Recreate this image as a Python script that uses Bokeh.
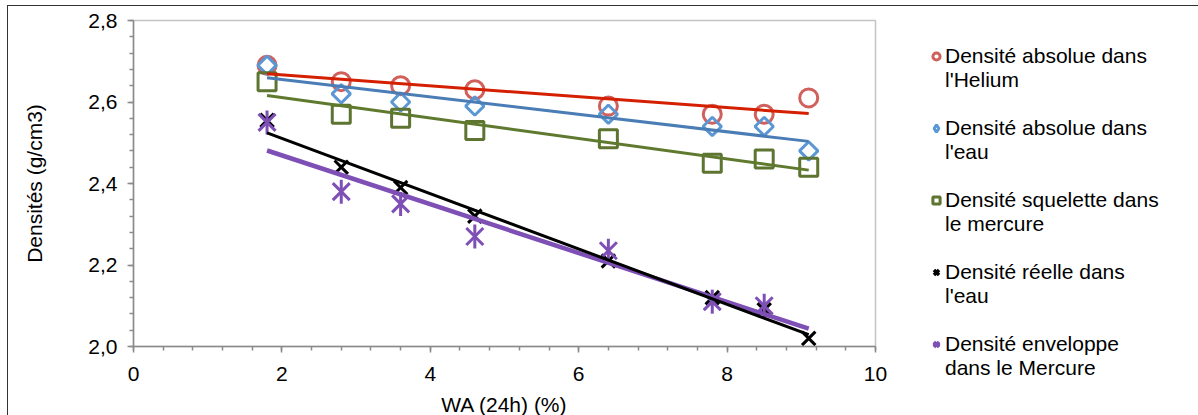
import numpy as np
from bokeh.plotting import figure
from bokeh.models import (Legend, LegendItem, FixedTicker, CustomJSTickFormatter, Range1d,
                          BoxAnnotation)
from bokeh.embed import file_html
from bokeh.resources import INLINE

# ---------------- data ----------------
wa = [1.8, 2.8, 3.6, 4.6, 6.4, 7.8, 8.5, 9.1]
helium = [2.69, 2.65, 2.64, 2.63, 2.59, 2.57, 2.57, 2.61]
eau_abs = [2.69, 2.62, 2.60, 2.59, 2.57, 2.54, 2.54, 2.48]
squelette = [2.65, 2.57, 2.56, 2.53, 2.51, 2.45, 2.46, 2.44]
reelle = [2.555, 2.44, 2.39, 2.32, 2.21, 2.12, 2.09, 2.02]
enveloppe = [2.55, 2.38, 2.35, 2.27, 2.235, 2.11, 2.10, float("nan")]  # no marker at 9.1

series_labels = [
    ("Densité absolue dans", "l'Helium"),
    ("Densité absolue dans", "l'eau"),
    ("Densité squelette dans", "le mercure"),
    ("Densité réelle dans", "l'eau"),
    ("Densité enveloppe", "dans le Mercure"),
]
x_label = "WA (24h) (%)"
y_label = "Densités (g/cm3)"
x_ticks = [0, 2, 4, 6, 8, 10]
y_ticks = [2.0, 2.2, 2.4, 2.6, 2.8]

FONT = "Liberation Sans"
FS = "21px"
C_RED, C_BLUE, C_GREEN, C_PURPLE = "#D0605C", "#5B97D5", "#5E7431", "#7E4FB5"

# ---------------- geometry ----------------
W, H = 1198, 415
PL, PR, PT, PB = 133, 875, 20, 346          # plot-area box in pixels
x0, x1 = x_ticks[0], x_ticks[-1]
y0, y1 = y_ticks[0], y_ticks[-1]
px_per_x = (PR - PL) / (x1 - x0)
px_per_y = (PB - PT) / (y1 - y0)
# the frame covers the whole canvas; axes are pinned to the plot-area edges
x_range = Range1d(x0 - PL / px_per_x, x1 + (W - PR) / px_per_x)
y_range = Range1d(y0 - (H - PB) / px_per_y, y1 + PT / px_per_y)

p = figure(width=W, height=H, output_backend="svg", toolbar_location=None,
           x_range=x_range, y_range=y_range,
           min_border_left=0, min_border_right=0, min_border_top=0, min_border_bottom=0)
p.styles = {
    "background": "linear-gradient(#333333, #333333) 7px 5px / 1px 420px no-repeat, "
                  "linear-gradient(#333333, #333333) 7px 5px / 1200px 1px no-repeat, white"
}
p.border_fill_alpha = 0
p.background_fill_alpha = 0
p.grid.visible = False
p.outline_line_color = None

# plot-area box: white fill, dark top / right edges (left / bottom lie under the axes)
p.add_layout(BoxAnnotation(left=x0, right=x1, bottom=y0, top=y1, fill_color="white",
                           fill_alpha=1, line_color="#3a3a3a", line_width=1.5, level="underlay"))

x_minor = [round(v, 2) for v in np.arange(x0, x1 + 0.001, 0.4)]
y_minor = [round(v, 2) for v in np.arange(y0, y1 + 0.001, 0.04)]
p.xaxis.ticker = FixedTicker(ticks=x_ticks, minor_ticks=x_minor)
p.yaxis.ticker = FixedTicker(ticks=y_ticks, minor_ticks=y_minor)
p.yaxis.formatter = CustomJSTickFormatter(code="return tick.toFixed(1).replace('.', ',');")
p.xaxis.fixed_location = y0
p.yaxis.fixed_location = x0
p.xaxis.bounds = (x0, x1)
p.yaxis.bounds = (y0, y1)

for ax in (p.xaxis[0], p.yaxis[0]):
    ax.axis_line_color = "#8a8a8a"
    ax.axis_line_width = 1.5
    ax.major_tick_line_color = "#8a8a8a"
    ax.major_tick_line_width = 1.5
    ax.minor_tick_line_color = "#8a8a8a"
    ax.minor_tick_line_width = 1.5
    ax.major_tick_in = 0
    ax.major_tick_out = 6
    ax.minor_tick_in = 0
    ax.minor_tick_out = 4
    ax.major_label_text_font = FONT
    ax.major_label_text_font_size = FS
    ax.major_label_text_color = "black"
    ax.axis_label_text_font = FONT
    ax.axis_label_text_font_size = FS
    ax.axis_label_text_font_style = "normal"
    ax.axis_label_text_color = "black"

p.xaxis.major_label_standoff = 14
p.yaxis.major_label_standoff = 10
p.xaxis.axis_label = x_label
p.yaxis.axis_label = y_label
p.xaxis.axis_label_standoff = 9
p.yaxis.axis_label_standoff = 39

# ---------------- markers ----------------
p.scatter(wa, helium, marker="circle", size=18, fill_color=None, line_color=C_RED, line_width=3)
p.scatter(wa, eau_abs, marker="square", angle=np.pi / 4, size=13, fill_color=None,
          line_color=C_BLUE, line_width=3)
p.scatter(wa, squelette, marker="square", size=18, fill_color=None, line_color=C_GREEN, line_width=3)
p.scatter(wa, reelle, marker="x", size=19, line_color="black", line_width=3)
p.scatter(wa, enveloppe, marker="x", size=24, line_color=C_PURPLE, line_width=3)
p.scatter(wa, enveloppe, marker="dash", angle=np.pi / 2, size=24, line_color=C_PURPLE, line_width=3)

# ---------------- linear trend lines ----------------
trend_specs = [
    (helium, "#D42000", 3),
    (eau_abs, "#4A7DB5", 3),
    (squelette, "#5F7A2F", 3),
    (enveloppe, C_PURPLE, 4.5),
    (reelle, "black", 3),
]
x_fit = [min(wa), max(wa)]
for ys, color, w in trend_specs:
    xa, ya = np.array(wa), np.array(ys, dtype=float)
    ok = ~np.isnan(ya)
    k, b = np.polyfit(xa[ok], ya[ok], 1)
    p.line(x_fit, [k * xv + b for xv in x_fit], line_color=color, line_width=w)

# ---------------- legend ----------------
# legend-only renderers (one undefined point each, nothing drawn on the chart)
e = dict(x=[float("nan")], y=[float("nan")])
l_he = [p.scatter(marker="circle", fill_color=None, line_color=C_RED, line_width=3, **e)]
l_eau = [p.scatter(marker="diamond", fill_color=None, line_color=C_BLUE, line_width=3, **e)]
l_sq = [p.scatter(marker="square", fill_color=None, line_color=C_GREEN, line_width=3, **e)]
l_re = [p.scatter(marker="x", line_color="black", line_width=3.5, **e)]
l_env = [p.scatter(marker="x", line_color=C_PURPLE, line_width=3.5, **e),
         p.scatter(marker="dash", angle=np.pi / 2, line_color=C_PURPLE, line_width=3.5, **e)]
blank = p.scatter(marker="circle", fill_alpha=0, line_alpha=0, **e)

series_renderers = [l_he, l_eau, l_sq, l_re, l_env]
items = []
for i, ((l1, l2), rs) in enumerate(zip(series_labels, series_renderers)):
    items.append(LegendItem(label=l1, renderers=rs))
    items.append(LegendItem(label=l2, renderers=[blank]))
    if i < len(series_labels) - 1:
        items.append(LegendItem(label=" ", renderers=[blank]))

n_rows = len(items)
ROW = 24
LEG_LEFT, LEG_TOP = 927, 44
legend = Legend(items=items, location=(LEG_LEFT, H - LEG_TOP - n_rows * ROW),
                orientation="vertical",
                glyph_width=18, glyph_height=ROW, label_height=ROW, label_standoff=0,
                spacing=0, padding=0, margin=0,
                border_line_alpha=0, background_fill_alpha=0,
                label_text_font=FONT, label_text_font_size=FS, label_text_color="black")
p.add_layout(legend, "center")

open("out.html", "w").write(file_html(p, INLINE))
